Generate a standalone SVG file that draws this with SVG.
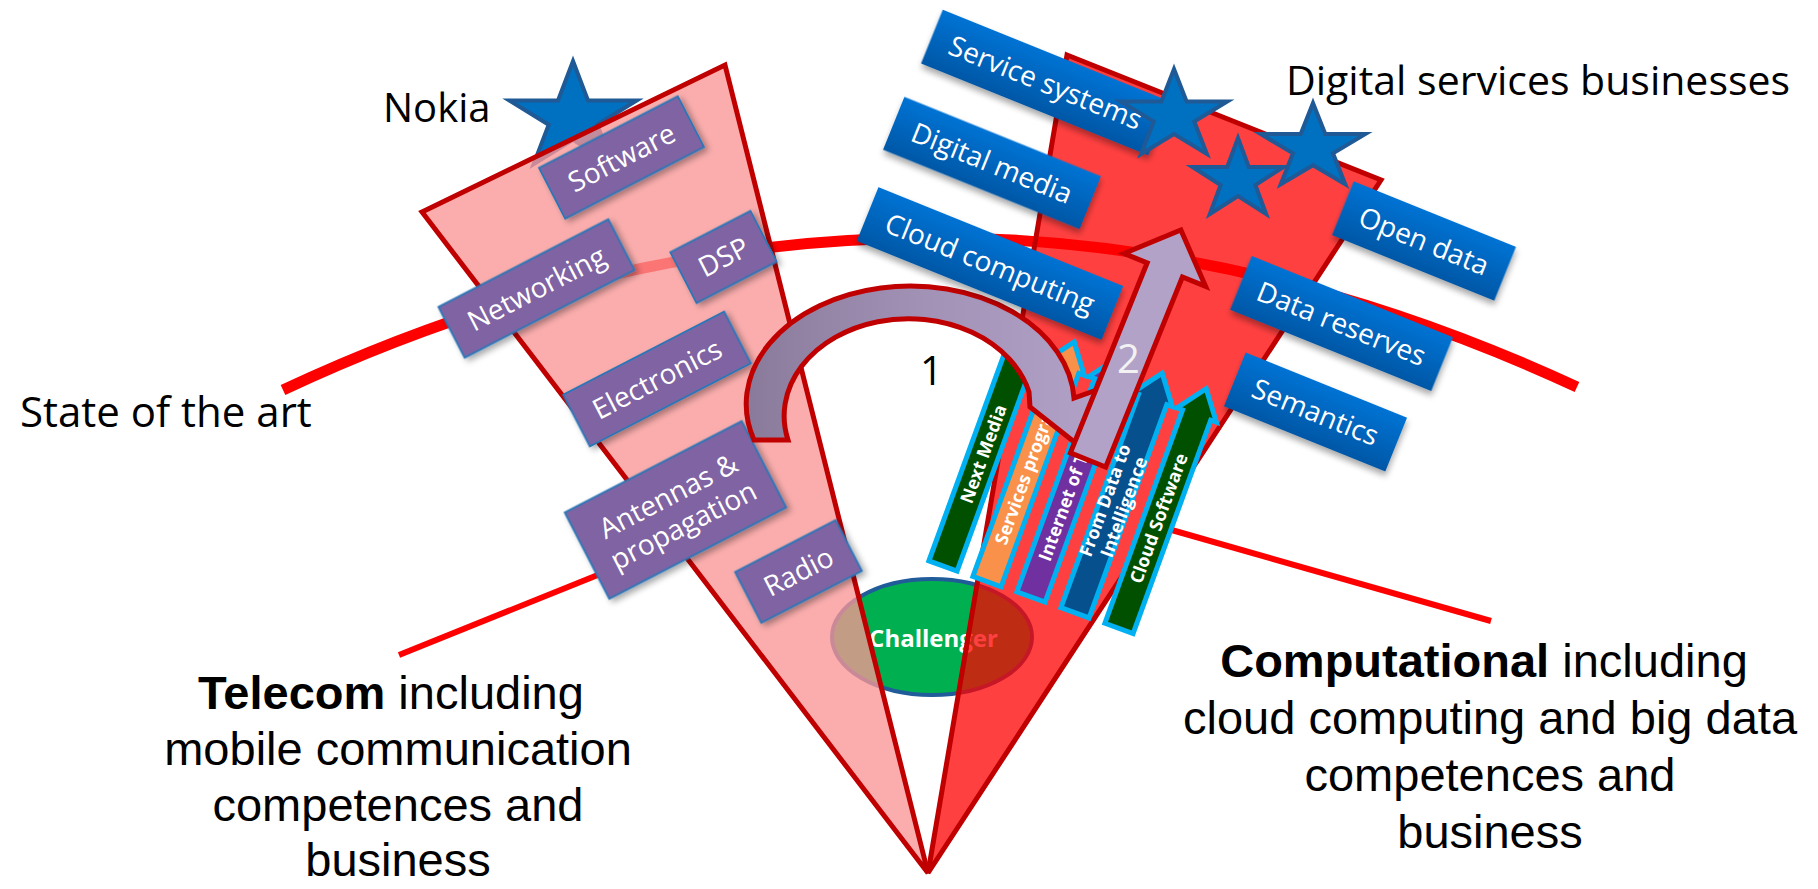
<svg xmlns="http://www.w3.org/2000/svg" width="1818" height="889" viewBox="0 0 1818 889">
<defs>
<style>
.lbl{font-family:"Open Sans","Noto Sans",sans-serif;fill:#000}
.bt{font-family:"Open Sans","Noto Sans",sans-serif;fill:#fff;font-size:28px;text-anchor:middle}
.at{font-family:"Open Sans","Noto Sans",sans-serif;fill:#fff;font-size:18px;font-weight:bold}
.big{font-family:"Liberation Sans",Arial,sans-serif;font-size:47px;fill:#000;text-anchor:middle}
.pbox{fill:#8064A2;stroke:#2E75B6;stroke-width:2;filter:url(#sh)}
.bbox{fill:url(#bg);filter:url(#sh)}
.star{fill:#0070C0;stroke:#1F5A96;stroke-width:4;stroke-linejoin:miter}
.carrow{stroke:#00B0F0;stroke-width:5;stroke-linejoin:miter}
.wedge{stroke:#C00000;stroke-width:5;stroke-linejoin:miter}
.ptr{stroke:#FF0000;stroke-width:6;fill:none}
</style>
<linearGradient id="bg" x1="0" y1="0" x2="0" y2="1"><stop offset="0" stop-color="#0073D4"/><stop offset="1" stop-color="#0057A6"/></linearGradient>
<linearGradient id="ag" x1="0" y1="0" x2="1" y2="0"><stop offset="0" stop-color="#8A7A9A"/><stop offset="0.5" stop-color="#A292B6"/><stop offset="1" stop-color="#B3A2C8"/></linearGradient>
<filter id="sh" x="-20%" y="-40%" width="140%" height="190%"><feDropShadow dx="2" dy="4" stdDeviation="3" flood-color="#000" flood-opacity="0.35"/></filter>
<path id="carr" d="M-15,0 L15,0 L15,-227 L21,-227 L0,-255 L-21,-227 L-15,-227 Z"/>
</defs>
<rect width="1818" height="889" fill="#fff"/>

<g id="state-of-the-art-curve">
<path d="M283,390 Q930,87 1577,387" fill="none" stroke="#FF0000" stroke-width="11"/>
</g>

<g id="pointer-lines">
<line class="ptr" x1="399" y1="655" x2="640" y2="558"/>
<line class="ptr" x1="1140" y1="521" x2="1491" y2="621"/>
</g>

<g id="nokia-star">
<polygon class="star" points="573,61 588,100.4 636.7,100.4 597.3,124.7 612.4,164.1 573,139.8 533.6,164.1 548.7,124.7 509.3,100.4 558,100.4"/>
</g>

<g id="challenger">
<ellipse cx="932" cy="637" rx="100" ry="58" fill="#00B050" stroke="#1F5C99" stroke-width="4"/>
<text x="933.5" y="647" text-anchor="middle" font-family="'Open Sans','Noto Sans',sans-serif" font-size="24" font-weight="bold" fill="#fff">Challenger</text>
</g>

<g id="telecom-wedge">
<polygon class="wedge" points="422,212 725,65 928,873" fill="rgb(250,150,150)" fill-opacity="0.78"/>
</g>
<g id="computational-wedge">
<polygon class="wedge" points="1067,55 1381,180 928,873" fill="rgb(255,0,0)" fill-opacity="0.75"/>
</g>

<g id="software" transform="translate(621.5,157.5) rotate(-27.3)"><rect class="pbox" x="-78" y="-28.5" width="156" height="57"/><text class="bt" y="10">Software</text></g>
<g id="networking" transform="translate(536.5,288.5) rotate(-27.3)"><rect class="pbox" x="-95.5" y="-28.5" width="191" height="57"/><text class="bt" y="10">Networking</text></g>
<g id="dsp" transform="translate(723.5,257) rotate(-27.3)"><rect class="pbox" x="-45" y="-28.5" width="90" height="57"/><text class="bt" y="10">DSP</text></g>
<g id="electronics" transform="translate(657,379) rotate(-27.3)"><rect class="pbox" x="-90.5" y="-29" width="181" height="58"/><text class="bt" y="10">Electronics</text></g>
<g id="antennas" transform="translate(675.5,510) rotate(-27.3)"><rect class="pbox" x="-99.5" y="-48.5" width="199" height="97"/><text class="bt" y="-6">Antennas &amp;</text><text class="bt" y="27">propagation</text></g>
<g id="radio" transform="translate(798.5,571.5) rotate(-27.3)"><rect class="pbox" x="-56.5" y="-28.5" width="113" height="57"/><text class="bt" y="10">Radio</text></g>

<g id="next-media" transform="translate(943,566) rotate(20)"><use href="#carr" class="carrow" fill="#005000"/><text class="at" text-anchor="middle" transform="translate(6,-119) rotate(-90)">Next Media</text></g>
<g id="services-programs" transform="translate(987,581.6) rotate(20)"><use href="#carr" class="carrow" fill="#F9914A"/><text class="at" transform="translate(6,-40) rotate(-90)">Services progra</text></g>
<g id="internet-of-things" transform="translate(1031,597) rotate(20)"><use href="#carr" class="carrow" fill="#7030A0"/><text class="at" transform="translate(6,-39) rotate(-90)">Internet of T</text></g>
<g id="data-to-intelligence" transform="translate(1075,612.8) rotate(20)"><use href="#carr" class="carrow" fill="#06508D"/><text class="at" text-anchor="middle" transform="translate(-4,-116) rotate(-90)">From Data to</text><text class="at" text-anchor="middle" transform="translate(16,-116) rotate(-90)">Intelligence</text></g>
<g id="cloud-software" transform="translate(1119,628.4) rotate(20)"><use href="#carr" class="carrow" fill="#005000"/><text class="at" text-anchor="middle" transform="translate(6,-117) rotate(-90)">Cloud Software</text></g>

<g id="connectors">
<path d="M754,440 A164,118 0 1 1 1074,398 L1108,386 L1092,456 L1030,407 L1029,392 A124,97 0 1 0 788,440 Z" fill="url(#ag)" stroke="#C00000" stroke-width="5" stroke-linejoin="miter"/>
<g transform="translate(1088,460) rotate(22)"><path d="M-19,0 L19,0 L19,-205 L44,-205 L0,-248 L-44,-205 L-19,-205 Z" fill="#B3A2C7" stroke="#C00000" stroke-width="5" stroke-linejoin="miter"/></g>
</g>
<g id="step-labels">
<text class="lbl" x="920" y="385" font-size="40">1</text>
<text x="1128.5" y="373" text-anchor="middle" font-family="'Open Sans','Noto Sans',sans-serif" font-size="40" fill="#F2F2F2">2</text>
</g>

<g id="service-systems" transform="translate(1045.5,82.5) rotate(22)"><rect class="bbox" x="-122.5" y="-29" width="245" height="58"/><text class="bt" y="10">Service systems</text></g>
<g id="digital-media" transform="translate(992,163) rotate(22)"><rect class="bbox" x="-106" y="-28.5" width="212" height="57"/><text class="bt" y="10">Digital media</text></g>
<g id="cloud-computing" transform="translate(990,263.5) rotate(22)"><rect class="bbox" x="-132" y="-29" width="264" height="58"/><text class="bt" y="10">Cloud computing</text></g>
<g id="open-data" transform="translate(1424,241) rotate(22)"><rect class="bbox" x="-87.5" y="-29" width="175" height="58"/><text class="bt" y="10">Open data</text></g>
<g id="data-reserves" transform="translate(1341.5,323.5) rotate(22)"><rect class="bbox" x="-108.5" y="-29" width="217" height="58"/><text class="bt" y="10">Data reserves</text></g>
<g id="semantics" transform="translate(1315.5,412) rotate(22)"><rect class="bbox" x="-87" y="-29" width="174" height="58"/><text class="bt" y="10">Semantics</text></g>

<g id="service-stars">
<polygon class="star" points="1174,69 1186.6,101.5 1227.3,101.5 1194.3,121.5 1206.9,154 1174,134 1141.1,154 1153.7,121.5 1120.7,101.5 1161.4,101.5"/>
<polygon class="star" points="1238,138 1248.8,167 1283.6,167 1255.4,185 1266.2,214 1238,196 1209.8,214 1220.6,185 1192.4,167 1227.2,167"/>
<polygon class="star" points="1313,103 1325.3,134.1 1365.3,134.1 1333,153.3 1345.3,184.4 1313,165.2 1280.7,184.4 1293,153.3 1260.7,134.1 1300.7,134.1"/>
</g>

<g id="labels">
<text class="lbl" x="383" y="122" font-size="40">Nokia</text>
<text class="lbl" x="20" y="427" font-size="42">State of the art</text>
<text class="lbl" x="1286" y="95" font-size="41">Digital services businesses</text>
</g>

<g id="telecom-caption">
<text class="big" x="391" y="709"><tspan font-weight="bold">Telecom</tspan> including</text>
<text class="big" x="398" y="765">mobile communication</text>
<text class="big" x="398" y="821">competences and</text>
<text class="big" x="398" y="876">business</text>
</g>
<g id="computational-caption">
<text class="big" x="1484" y="677"><tspan font-weight="bold">Computational</tspan> including</text>
<text class="big" x="1490" y="734">cloud computing and big data</text>
<text class="big" x="1490" y="791">competences and</text>
<text class="big" x="1490" y="848">business</text>
</g>
</svg>
